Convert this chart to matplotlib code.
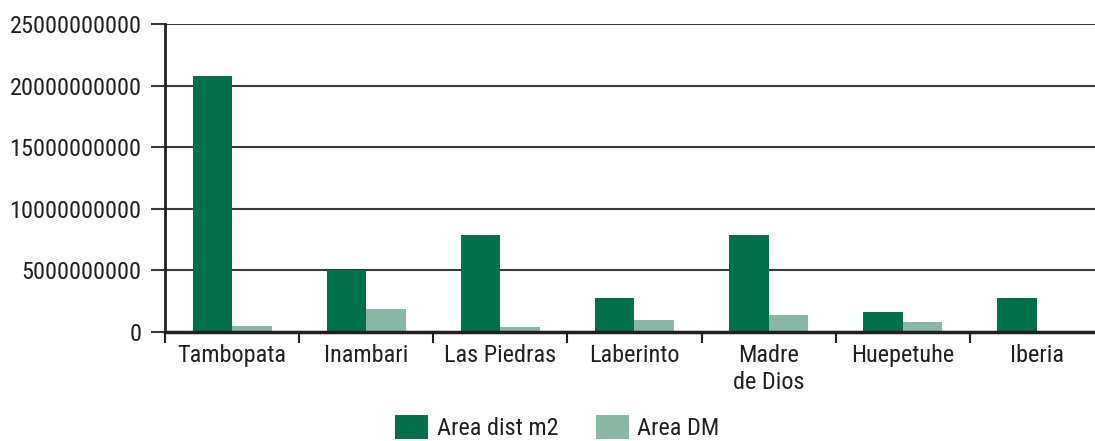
import numpy as np
import matplotlib
matplotlib.use("Agg")
import matplotlib.pyplot as plt
from matplotlib.font_manager import fontManager

districts = ["Tambopata", "Inambari", "Las Piedras", "Laberinto",
             "Madre\nde Dios", "Huepetuhe", "Iberia"]
area_dist_m2 = [20.8e9, 5.0e9, 7.9e9, 2.8e9, 7.9e9, 1.65e9, 2.8e9]
area_dm = [0.5e9, 1.87e9, 0.4e9, 0.97e9, 1.38e9, 0.81e9, 0.0]
y_ticks = [0, 5e9, 10e9, 15e9, 20e9, 25e9]

DARK = "#00704a"
LIGHT = "#86b8a3"
INK = "#231f20"

# condensed face, close to the reference's narrow sans
names = {f.name for f in fontManager.ttflist}
family = next((n for n in ["Roboto Condensed", "Archivo Narrow",
                           "Fira Sans Condensed", "Pragati Narrow"]
               if n in names), "DejaVu Sans")
plt.rcParams["font.family"] = family

fig = plt.figure(figsize=(10.95, 4.41), dpi=100)
ax = fig.add_axes([0.1507, 0.2472, 0.8575, 0.6977])

x = np.arange(len(districts))
w = 0.295
ax.bar(x - w / 2, area_dist_m2, w, color=DARK, label="Area dist m2", zorder=3)
ax.bar(x + w / 2, area_dm, w, color=LIGHT, label="Area DM", zorder=3)

ax.set_xlim(-0.5, len(districts) - 0.5)
ax.set_ylim(0, 25e9)
ax.set_yticks(y_ticks)
ax.set_yticklabels([f"{int(v)}" for v in y_ticks])
ax.yaxis.grid(True, color="#3a3a3a", lw=1.5, zorder=0)

ax.set_xticks(x)
ax.set_xticklabels(districts, linespacing=1.2)
ax.set_xticks(np.arange(len(districts) + 1) - 0.5, minor=True)
ax.tick_params(axis="x", which="major", length=0, pad=9,
               labelsize=17.5, labelcolor=INK)
ax.tick_params(axis="x", which="minor", length=8, width=1.5, color=INK)
ax.tick_params(axis="y", length=10, width=1.5, color="#3a3a3a", pad=7,
               labelsize=17.5, labelcolor=INK)

for side in ("top", "right"):
    ax.spines[side].set_visible(False)
ax.spines["left"].set_color(INK)
ax.spines["left"].set_linewidth(2)
ax.spines["bottom"].set_color(INK)
ax.spines["bottom"].set_linewidth(2.5)
ax.spines["bottom"].set_zorder(4)

fig.legend(loc="center", bbox_to_anchor=(0.509, 0.03), ncol=2,
           frameon=False, fontsize=17.5, handlelength=1.36, handleheight=1.1,
           columnspacing=1.55, handletextpad=0.35, labelcolor=INK)

fig.savefig("out.png", dpi=100)
